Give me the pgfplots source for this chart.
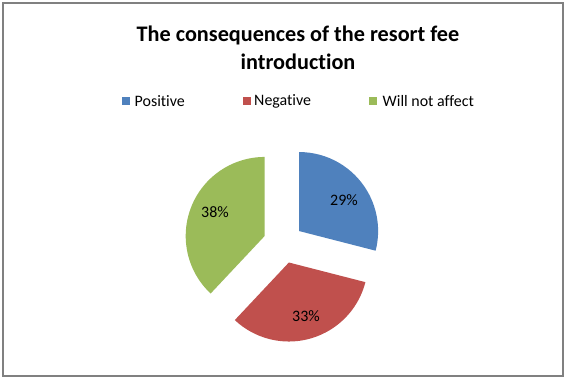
\documentclass[border=0pt]{standalone}
\usepackage{fontspec}
\setmainfont{Carlito}[Ligatures=NoCommon]
\usepackage{pgfplots}
\pgfplotsset{compat=1.18}
\definecolor{pblue}{HTML}{4F81BD}
\definecolor{pred}{HTML}{C0504D}
\definecolor{pgreen}{HTML}{9BBB59}
\definecolor{frame}{HTML}{808080}
% pie centre (axis units = bp), explosion offset and radius
\def\cx{283.3}\def\cy{139.7}\def\explode{20}\def\rad{79}
\newcommand\slice[3]{% #1 cumulative start (%), #2 value (%), #3 colour
  \pgfmathsetmacro\sa{90-3.6*#1}%
  \pgfmathsetmacro\sb{90-3.6*(#1+#2)}%
  \pgfmathsetmacro\sm{(\sa+\sb)/2}%
  \edef\tmp{\noexpand\fill[#3] (axis cs:\cx,\cy) ++(\sm:\explode bp) -- ++(\sa:\rad bp)
     arc[start angle=\sa, end angle=\sb, radius=\rad bp] -- cycle;}%
  \tmp
}
\begin{document}
\begin{tikzpicture}
\begin{axis}[width=570bp,height=383bp,scale only axis,
  xmin=0,xmax=570,ymin=0,ymax=383,hide axis,clip=false]
\fill[white] (axis cs:0,0) rectangle (axis cs:570,383);
\draw[frame,line width=1.8bp] (axis cs:3.3,379.7) rectangle (axis cs:562.7,6.7);
% title
\node[font=\bfseries\fontsize{22.3}{26}\selectfont] at (axis cs:298,348) {The consequences of the resort fee};
\node[font=\bfseries\fontsize{22.3}{26}\selectfont] at (axis cs:298,321.5) {introduction};
% legend
\fill[pblue] (axis cs:122,277.5) rectangle (axis cs:130,285.5);
\node[anchor=west,font=\fontsize{16}{19}\selectfont,inner sep=0pt] at (axis cs:134.5,281.5) {Positive};
\fill[pred] (axis cs:243,277.5) rectangle (axis cs:251,285.5);
\node[anchor=west,font=\fontsize{16}{19}\selectfont,inner sep=0pt] at (axis cs:254,281.5) {Negative};
\fill[pgreen] (axis cs:369,277.5) rectangle (axis cs:377,285.5);
\node[anchor=west,font=\fontsize{16}{19}\selectfont,inner sep=0pt] at (axis cs:382.5,281.5) {Will not affect};
% slices: Positive 29, Negative 33, Will not affect 38
\slice{0}{29}{pblue}
\slice{29}{33}{pred}
\slice{62}{38}{pgreen}
% data labels
\node[font=\fontsize{16}{19}\selectfont] at (axis cs:344,183) {29\%};
\node[font=\fontsize{16}{19}\selectfont] at (axis cs:306,67.3) {33\%};
\node[font=\fontsize{16}{19}\selectfont] at (axis cs:215,171.3) {38\%};
\end{axis}
\end{tikzpicture}
\end{document}
